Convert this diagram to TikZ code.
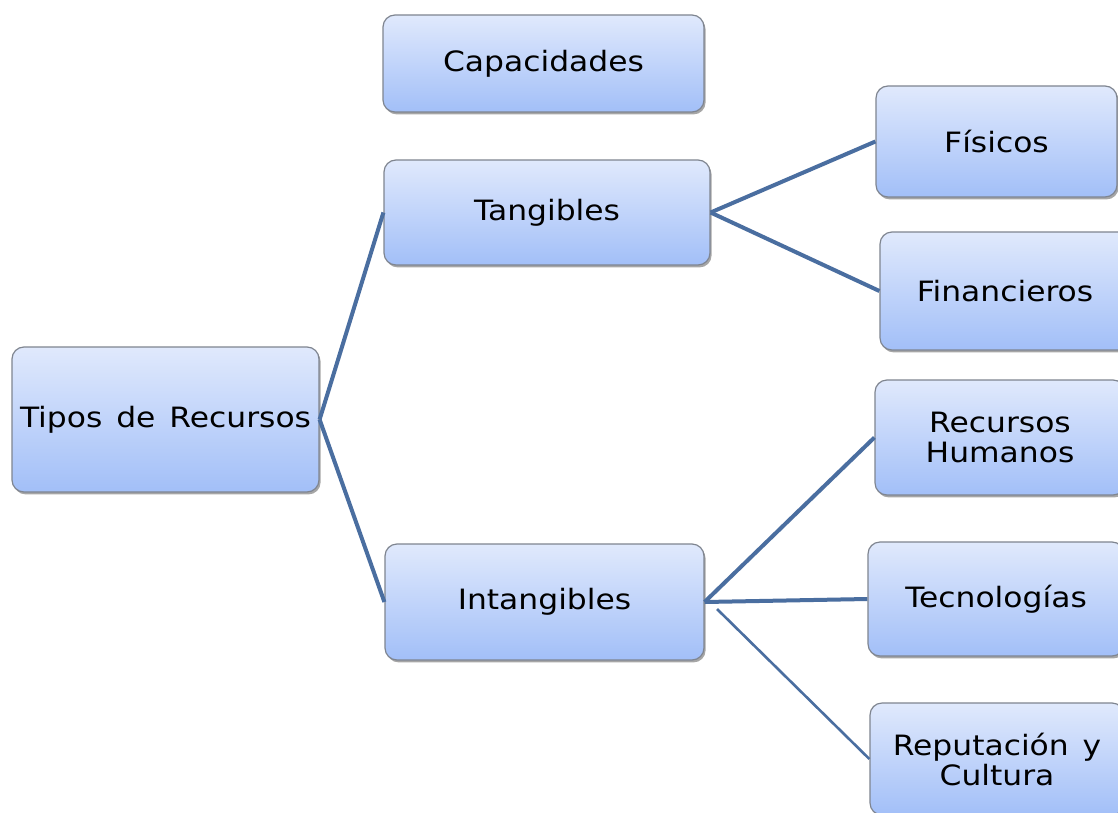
\documentclass[tikz,border=0pt]{standalone}
\usepackage{fontspec}
\setmainfont{DejaVu Sans}[FakeStretch=1.12, WordSpace=1.4]
\usetikzlibrary{shadows}

\definecolor{boxtop}{HTML}{E0E9FC}
\definecolor{boxbottom}{HTML}{A2BFF8}
\definecolor{boxline}{HTML}{7F8590}
\definecolor{linkblue}{HTML}{4A6EA0}

\begin{document}
\begin{tikzpicture}[x=0.5pt, y=-0.5pt,
every node/.style={},
recurso/.style={rectangle, draw=boxline, line width=0.6pt, rounded corners=6pt, inner sep=0pt,
  top color=boxtop, bottom color=boxbottom, align=center,
  font=\fontsize{14}{15}\selectfont,
  drop shadow={shadow xshift=0.8pt, shadow yshift=-1.2pt, opacity=0.35, fill=black}},
link/.style={draw=linkblue, line width=2pt},
thinlink/.style={draw=linkblue, line width=1.3pt}
]

\fill [white] (0,0) rectangle (1118,813);
\clip (0,0) rectangle (1118,813);

\node [recurso, minimum width=160.5pt, minimum height=48.5pt] (capac) at (543.5,63.5) {Capacidades};
\node [recurso, minimum width=163pt, minimum height=52.5pt] (tang) at (547,212.5) {Tangibles};
\node [recurso, minimum width=153.5pt, minimum height=72.5pt] (tipos) at (165.5,419.5) {Tipos de Recursos};
\node [recurso, minimum width=159.5pt, minimum height=58pt] (intang) at (544.5,602) {Intangibles};

\node [recurso, minimum width=120.5pt, minimum height=55.5pt] (fisicos) at (996.5,141.5) {Físicos};
\node [recurso, minimum width=125pt, minimum height=59pt] (financ) at (1005,291) {Financieros};
\node [recurso, minimum width=125pt, minimum height=57.5pt] (humanos) at (1000,437.5) {Recursos\\Humanos};
\node [recurso, minimum width=128pt, minimum height=57pt] (tecno) at (996,599) {Tecnologías};
\node [recurso, minimum width=127pt, minimum height=56pt] (reput) at (997,759) {Reputación y\\Cultura};

\coordinate (intangoff) at (717,609);

\draw [link] (tipos.east) -- (tang.west);
\draw [link] (tipos.east) -- (intang.west);

\draw [link] (tang.east) -- (fisicos.west);
\draw [link] (tang.east) -- (financ.west);

\draw [link] (intang.east) -- (humanos.west);
\draw [link] (intang.east) -- (tecno.west);
\draw [thinlink] (intangoff) -- (reput.west);

\end{tikzpicture}
\end{document}
